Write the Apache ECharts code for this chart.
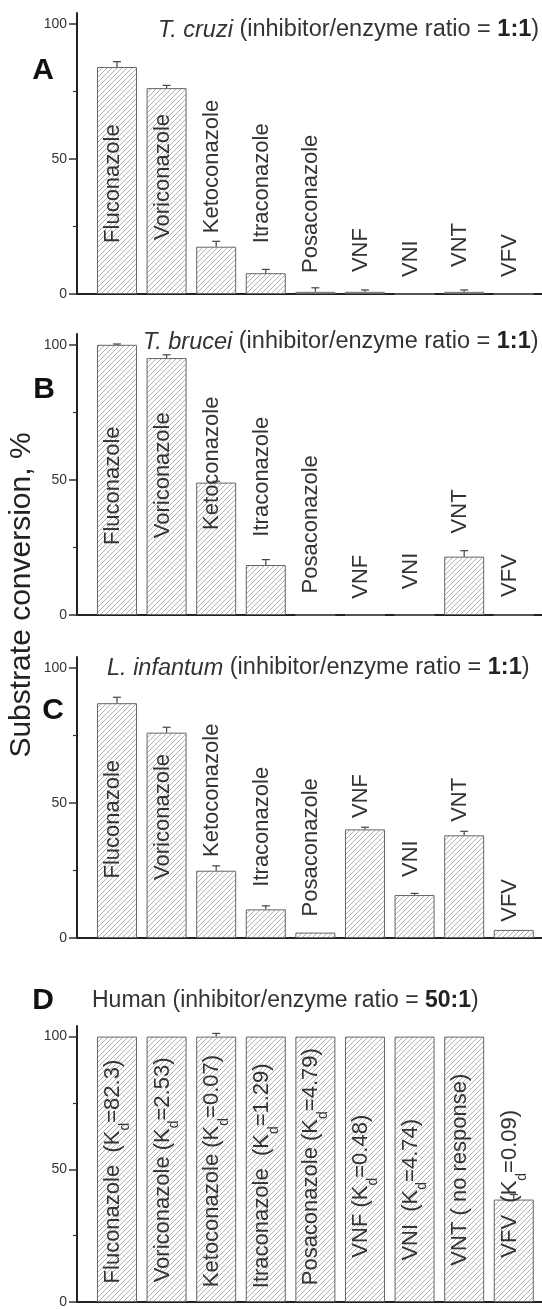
<!DOCTYPE html>
<html><head><meta charset="utf-8">
<script src="https://cdn.jsdelivr.net/npm/echarts@6/dist/echarts.min.js"></script>
<style>html,body{margin:0;padding:0;background:#fff}#c{width:542px;height:1309px}</style>
</head><body><div id="c"></div>
<script>
// ---------- data ----------
const drugs = ['Fluconazole','Voriconazole','Ketoconazole','Itraconazole','Posaconazole','VNF','VNI','VNT','VFV'];
const humanLabels = ['Fluconazole  (K_d=82.3)','Voriconazole (K_d=2.53)','Ketoconazole (K_d=0.07)','Itraconazole  (K_d=1.29)','Posaconazole (K_d=4.79)','VNF (K_d=0.48)','VNI  (K_d=4.74)','VNT ( no response)','VFV  (K_d=0.09)'];

const cruziValues = [84, 76.2, 17.5, 7.7, 0.8, 0.8, 0, 0.8, 0];
const cruziErrors = [2, 1, 2, 1.4, 1.5, 0.7, 0, 0.7, 0];
const cruziLabelAt = [18.9, 20, 22.5, 18.8, 7.8, 8.1, 6.3, 10, 6.3];

const bruceiValues = [100, 95.1, 49, 18.5, 0, 0, 0, 21.6, 0];
const bruceiErrors = [0.3, 1.2, 0.5, 2, 0, 0, 0, 2.2, 0];
const bruceiLabelAt = [25.9, 28.4, 31.5, 29, 8, 6, 9.5, 30.2, 6.7];

const infantumValues = [86.9, 76, 24.9, 10.6, 2, 40.2, 15.9, 38, 3];
const infantumErrors = [2.2, 2, 1.8, 1.3, 0, 0.8, 0.6, 1.5, 0];
const infantumLabelAt = [22, 21.5, 30, 19, 8, 44.4, 22.6, 43, 6];

const humanValues = [100, 100, 100, 100, 100, 100, 100, 100, 38.6];
const humanErrors = [0, 0, 1.2, 0, 0, 0, 0, 0, 1.9];
const humanLabelAt = [7, 7.4, 5.6, 5.2, 6.3, 16.7, 15.6, 13.7, 16.7];

const panelLetters = ['A','B','C','D'];
const speciesNames = ['T. cruzi','T. brucei','L. infantum','Human'];
const speciesItalic = [true, true, true, false];
const ratios = ['1:1','1:1','1:1','50:1'];
const yTickValues = [0, 50, 100];
const yMinorTickValues = [25, 75];
const yAxisName = 'Substrate conversion, %';

// ---------- layout ----------
const FONT = "'Liberation Sans', Arial, Helvetica, sans-serif";
const gridTops = [13, 334, 657, 1026];
const letterPos = [[43,71],[44,390],[53,711],[43,1001]];
const titlePos = [[158,30],[143,342],[107,668],[92,1001]];
const titleSizes = [23.5, 23.5, 23.5, 23];
const panelData = [
  [cruziValues, cruziErrors, cruziLabelAt, drugs],
  [bruceiValues, bruceiErrors, bruceiLabelAt, drugs],
  [infantumValues, infantumErrors, infantumLabelAt, drugs],
  [humanValues, humanErrors, humanLabelAt, humanLabels]
];

function hatch(){
  const s = 5;
  const c = document.createElement('canvas'); c.width = s; c.height = s;
  const g = c.getContext('2d');
  g.fillStyle = '#fff'; g.fillRect(0,0,s,s);
  g.strokeStyle = '#a8a8a8'; g.lineWidth = 0.9;
  g.beginPath();
  g.moveTo(0,s); g.lineTo(s,0);
  g.moveTo(-1,1); g.lineTo(1,-1);
  g.moveTo(s-1,s+1); g.lineTo(s+1,s-1);
  g.stroke();
  return c;
}
const pattern = {image: hatch(), repeat: 'repeat'};

function richLabel(t){
  if (t.indexOf('_d') < 0) return '{n|' + t + '}';
  const parts = t.split('_d');
  return '{n|' + parts[0] + '}{s|d}{n|' + parts[1] + '}';
}
const labelRich = {
  n: {fontSize: 22, fontFamily: FONT, fill: '#333', lineHeight: 30, verticalAlign: 'top'},
  s: {fontSize: 14, fontFamily: FONT, fill: '#333', lineHeight: 14, verticalAlign: 'bottom'}
};

const grid = [], xAxis = [], yAxis = [], series = [], graphic = [];
panelData.forEach((pd, i) => {
  const [vals, errs, labAt, labs] = pd;
  grid.push({left: 77, width: 465, top: gridTops[i], height: 281});
  xAxis.push({gridIndex: i, type: 'value', min: 0.194, max: 9.569,
    axisLine: {show: true, onZero: false, lineStyle: {color: '#222', width: 2}},
    axisTick: {show: false}, axisLabel: {show: false}, splitLine: {show: false}});
  yAxis.push({gridIndex: i, type: 'value', min: 0, max: 104, position: 'left',
    axisLine: {show: true, lineStyle: {color: '#222', width: 2}},
    axisTick: {show: true, customValues: yTickValues, length: 8, lineStyle: {color: '#333', width: 1.5}},
    axisLabel: {show: true, customValues: yTickValues, fontSize: 14, color: '#333', fontFamily: FONT, margin: 10},
    splitLine: {show: false}});
  yAxis.push({gridIndex: i, type: 'value', min: 0, max: 104, position: 'left',
    axisLine: {show: false},
    axisTick: {show: true, customValues: yMinorTickValues, length: 4, lineStyle: {color: '#333', width: 1.2}},
    axisLabel: {show: false}, splitLine: {show: false}});
  series.push({type: 'bar', xAxisIndex: i, yAxisIndex: 2*i, barWidth: 40, silent: true, z: 2,
    data: vals.map((v,k) => [k+1, v]),
    itemStyle: {color: pattern, borderColor: '#666', borderWidth: 1}});
  series.push({type: 'custom', xAxisIndex: i, yAxisIndex: 2*i, silent: true, z: 5,
    data: vals.map((v,k) => [k+1, v, errs[k]]),
    renderItem: function(params, api){
      const x = api.value(0), v = api.value(1), e = api.value(2);
      if (!e) return;
      const p0 = api.coord([x, v]), p1 = api.coord([x, v+e]);
      const st = {stroke: '#444', lineWidth: 1.2};
      return {type: 'group', children: [
        {type: 'line', shape: {x1: p0[0], y1: p0[1], x2: p1[0], y2: p1[1]}, style: st},
        {type: 'line', shape: {x1: p1[0]-4, y1: p1[1], x2: p1[0]+4, y2: p1[1]}, style: st}
      ]};
    }});
  series.push({type: 'custom', xAxisIndex: i, yAxisIndex: 2*i, silent: true, z: 6,
    data: labAt.map((b,k) => [k+1, b]),
    renderItem: function(params, api){
      const p = api.coord([api.value(0), api.value(1)]);
      return {type: 'text', x: p[0], y: p[1], rotation: Math.PI/2,
        style: {text: richLabel(labs[params.dataIndex]), rich: labelRich,
          font: '22px ' + FONT, fill: '#333', align: 'left', verticalAlign: 'middle'}};
    }});
  graphic.push({type: 'text', x: letterPos[i][0], y: letterPos[i][1],
    style: {text: panelLetters[i], font: 'bold 30px ' + FONT, fill: '#111', align: 'center', verticalAlign: 'middle'}});
  const fs = titleSizes[i];
  const sp = speciesItalic[i] ? '{i|' + speciesNames[i] + '}' : '{n|' + speciesNames[i] + '}';
  graphic.push({type: 'text', x: titlePos[i][0], y: titlePos[i][1],
    style: {text: sp + '{n| (inhibitor/enzyme ratio = }{b|' + ratios[i] + '}{n|)}',
      rich: {
        i: {fontSize: fs, fontFamily: FONT, fontStyle: 'italic', fill: '#333'},
        n: {fontSize: fs, fontFamily: FONT, fill: '#333'},
        b: {fontSize: fs, fontFamily: FONT, fontWeight: 'bold', fill: '#222'}
      },
      font: fs + 'px ' + FONT, fill: '#333', align: 'left', verticalAlign: 'middle'}});
});
graphic.push({type: 'text', x: 22, y: 595, rotation: Math.PI/2,
  style: {text: yAxisName, font: '30px ' + FONT, fill: '#222', align: 'center', verticalAlign: 'middle'}});

const chart = echarts.init(document.getElementById('c'), null, {renderer: 'canvas'});
chart.setOption({animation: false, backgroundColor: '#fff', grid, xAxis, yAxis, series, graphic});
</script></body></html>
